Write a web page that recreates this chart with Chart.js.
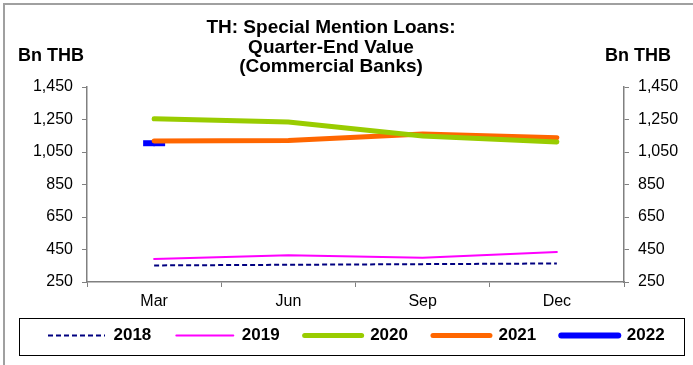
<!DOCTYPE html>
<html>
<head>
<meta charset="utf-8">
<script src="https://cdn.jsdelivr.net/npm/chart.js@4/dist/chart.umd.min.js"></script>
<style>
html, body { margin: 0; padding: 0; background: #fff; }
#wrap { width: 693px; height: 365px; }
</style>
</head>
<body>
<div id="wrap"><canvas id="myChart" width="693" height="365"></canvas></div>
<script>
// data (Bn THB)
const quarters = ['Mar', 'Jun', 'Sep', 'Dec'];
const yTicks = [250, 450, 650, 850, 1050, 1250, 1450];
const sml2018 = [352, 356, 360, 364];
const sml2019 = [392, 415, 400, 434];
const sml2020 = [1254, 1234, 1148, 1112];
const sml2021 = [1117, 1121, 1160, 1138];
const sml2022 = [1104, null, null, null];

const titleLines = ['TH: Special Mention Loans:', 'Quarter-End Value', '(Commercial Banks)'];
const unitLabel = 'Bn THB';

const FONT = 'Liberation Sans, Arial, sans-serif';
const AXIS_GREY = '#808080';
const LEGEND_TOP = 302;

// title, unit labels, frame and the box round the legend
const decorations = {
    id: 'decorations',
    afterLayout(chart) {
        // pull the legend up a bit closer to the category labels
        const lg = chart.legend;
        if (lg) {
            const h = lg.height;
            lg.top = LEGEND_TOP;
            lg.bottom = LEGEND_TOP + h;
        }
    },
    afterDraw(chart) {
        const ctx = chart.ctx;
        const area = chart.chartArea;
        ctx.save();

        // outer frame (top + left only, like the clipped screenshot)
        ctx.strokeStyle = '#a0a0a0';
        ctx.lineWidth = 2;
        ctx.beginPath();
        ctx.moveTo(4, 365);
        ctx.lineTo(4, 4);
        ctx.lineTo(693, 4);
        ctx.stroke();

        ctx.fillStyle = '#000';
        ctx.textAlign = 'center';
        ctx.textBaseline = 'middle';
        ctx.font = 'bold 19px ' + FONT;
        titleLines.forEach((t, i) => ctx.fillText(t, 331, 28 + i * 19.5));

        ctx.font = 'bold 18px ' + FONT;
        ctx.fillText(unitLabel, area.left - 36, 56);
        ctx.fillText(unitLabel, area.right + 14, 56);

        // legend box
        const hits = chart.legend.legendHitBoxes;
        if (hits && hits.length) {
            const first = hits[0];
            const last = hits[hits.length - 1];
            const x0 = first.left - 29;
            const x1 = last.left + last.width + 19;
            const y0 = first.top - 9;
            const y1 = first.top + first.height + 11;
            ctx.strokeStyle = '#000';
            ctx.lineWidth = 1;
            ctx.strokeRect(Math.round(x0) + 0.5, Math.round(y0) + 0.5, Math.round(x1 - x0), Math.round(y1 - y0));
        }
        ctx.restore();
    }
};

const ctx = document.getElementById('myChart').getContext('2d');

const myChart = new Chart(ctx, {
    type: 'line',
    data: {
        labels: quarters,
        datasets: [
            {
                label: '2018', data: sml2018,
                borderColor: '#000080', borderWidth: 2, borderDash: [5, 3],
                borderCapStyle: 'butt', pointRadius: 0
            },
            {
                label: '2019', data: sml2019,
                borderColor: '#ff00ff', borderWidth: 2,
                borderCapStyle: 'round', pointRadius: 0
            },
            {
                label: '2020', data: sml2020,
                borderColor: '#99cc00', borderWidth: 5,
                borderCapStyle: 'round', pointRadius: 0
            },
            {
                label: '2021', data: sml2021,
                borderColor: '#ff6600', borderWidth: 5,
                borderCapStyle: 'round', pointRadius: 0
            },
            {
                // only one quarter so far: drawn as a short dash marker
                label: '2022', data: sml2022,
                borderColor: '#0000ff', borderWidth: 6,
                borderCapStyle: 'round',
                pointStyle: 'line', pointRadius: 11,
                pointBorderColor: '#0000ff', pointBorderWidth: 6
            }
        ]
    },
    options: {
        responsive: false,
        animation: false,
        devicePixelRatio: 1,
        layout: {
            padding: { top: 87, left: 23, right: 0, bottom: 3 }
        },
        plugins: {
            title: { display: false },
            tooltip: { enabled: false },
            legend: {
                display: true,
                position: 'bottom',
                align: 'start',
                labels: {
                    usePointStyle: true,
                    pointStyleWidth: 57,
                    padding: 25,
                    color: '#000',
                    font: { family: FONT, size: 17, weight: 'bold' },
                    generateLabels: chart => chart.data.datasets.map((ds, i) => ({
                        text: ds.label,
                        fillStyle: ds.borderColor,
                        strokeStyle: ds.borderColor,
                        lineWidth: ds.borderWidth,
                        lineDash: ds.borderDash || [],
                        lineCap: ds.borderCapStyle === 'butt' ? 'butt' : 'round',
                        pointStyle: 'line',
                        hidden: false,
                        datasetIndex: i,
                        fontColor: '#000'
                    }))
                }
            }
        },
        scales: {
            x: {
                offset: true,
                grid: {
                    offset: true,
                    drawOnChartArea: false,
                    tickLength: 5,
                    color: AXIS_GREY
                },
                border: { color: AXIS_GREY, width: 1.5 },
                ticks: {
                    color: '#000',
                    padding: 5,
                    maxRotation: 0,
                    font: { family: FONT, size: 16 }
                },
                afterFit: scale => { scale.height = 28; }
            },
            y: {
                position: 'left',
                min: 250, max: 1450,
                afterBuildTicks: scale => { scale.ticks = yTicks.map(v => ({ value: v })); },
                grid: { drawOnChartArea: false, tickLength: 5, color: AXIS_GREY },
                border: { color: AXIS_GREY, width: 1.5 },
                ticks: {
                    color: '#000',
                    padding: 9,
                    font: { family: FONT, size: 16 },
                    callback: v => v.toLocaleString('en-US')
                },
                afterFit: scale => { scale.width = 64; }
            },
            y2: {
                position: 'right',
                min: 250, max: 1450,
                afterBuildTicks: scale => { scale.ticks = yTicks.map(v => ({ value: v })); },
                grid: { drawOnChartArea: false, tickLength: 5, color: AXIS_GREY },
                border: { color: AXIS_GREY, width: 1.5 },
                ticks: {
                    color: '#000',
                    padding: 9,
                    font: { family: FONT, size: 16 },
                    callback: v => v.toLocaleString('en-US')
                },
                afterFit: scale => { scale.width = 69; }
            }
        }
    },
    plugins: [decorations]
});
</script>
</body>
</html>
